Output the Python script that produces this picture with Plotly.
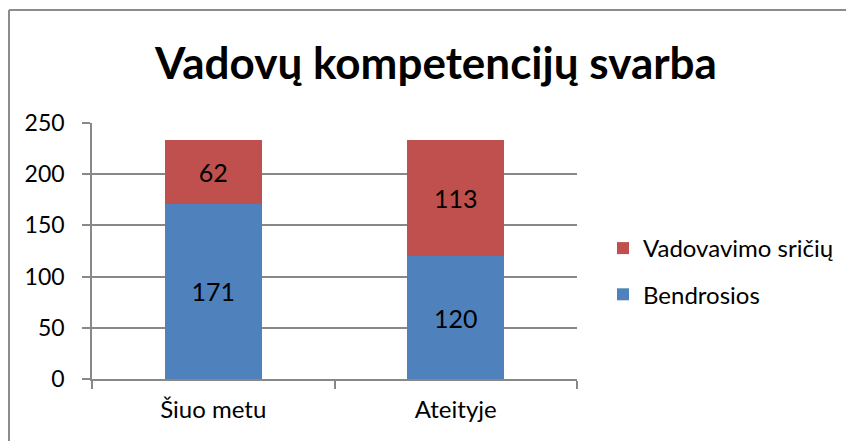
import plotly.graph_objects as go

categories = ["Šiuo metu", "Ateityje"]
bendrosios = [171, 120]
vadovavimo = [62, 113]
series_names = ["Bendrosios", "Vadovavimo sričių"]
title_text = "Vadovų kompetencijų svarba"

W, H = 854, 441
OFF = 8  # page body margin offset
L = 92 - OFF
T = 123 - OFF
R = W - (577 - OFF)
B = H - (379 - OFF)
pw, ph = W - L - R, H - T - B

font_family = "Lato, 'Open Sans', sans-serif"

fig = go.Figure()
fig.add_trace(go.Bar(
    x=categories, y=bendrosios, name=series_names[0],
    marker=dict(color="#4F81BD", line=dict(width=0)),
    text=bendrosios, textposition="inside", insidetextanchor="middle",
    textfont=dict(color="black", size=25, family=font_family),
    legendrank=2, legendgroup="b",
))
fig.add_trace(go.Bar(
    x=categories, y=vadovavimo, name=series_names[1],
    marker=dict(color="#C0504D", line=dict(width=0)),
    text=vadovavimo, textposition="inside", insidetextanchor="middle",
    textfont=dict(color="black", size=25, family=font_family),
    legendrank=1, legendgroup="v",
))

def px_x(p):
    return (p - OFF - L) / pw

def px_y(p):
    return (H - B - (p - OFF)) / ph

fig.update_layout(
    width=W, height=H,
    margin=dict(l=L, r=R, t=T, b=B, pad=0),
    paper_bgcolor="white", plot_bgcolor="white",
    barmode="stack", bargap=0.6,
    font=dict(family=font_family, color="black", size=23),
    title=dict(text="<b>" + title_text + "</b>", x=(436 - OFF) / W, xanchor="center",
               y=1 - (64 - OFF) / H, yanchor="middle", xref="container", yref="container",
               font=dict(size=44, family=font_family, color="black")),
    showlegend=True,
    legend=dict(x=px_x(603), y=px_y(226), xanchor="left", yanchor="top",
                traceorder="grouped", tracegroupgap=12,
                font=dict(size=24, family=font_family),
                bgcolor="rgba(0,0,0,0)"),
    xaxis=dict(showline=True, linecolor="#888888", linewidth=1.5,
               ticks="outside", tickson="boundaries", ticklen=8, tickcolor="#888888",
               tickwidth=1.5, tickfont=dict(size=24), showgrid=False,
               range=[-0.5, 1.5], ticklabelstandoff=8),
    yaxis=dict(range=[0, 250], dtick=50, showline=True, linecolor="#888888",
               linewidth=1.5, ticks="outside", ticklen=8, tickcolor="#888888",
               tickwidth=1.5, showgrid=True, gridcolor="#888888", gridwidth=1.5,
               zeroline=False, tickfont=dict(size=23), ticklabelstandoff=13),
    shapes=[
        dict(type="line", xref="paper", yref="paper", x0=px_x(9), x1=px_x(W + 20),
             y0=px_y(10), y1=px_y(10), line=dict(color="#8c8c8c", width=2)),
        dict(type="line", xref="paper", yref="paper", x0=px_x(9), x1=px_x(9),
             y0=px_y(10), y1=px_y(H + 20), line=dict(color="#8c8c8c", width=2)),
    ],
)

fig.write_html("out.html")
